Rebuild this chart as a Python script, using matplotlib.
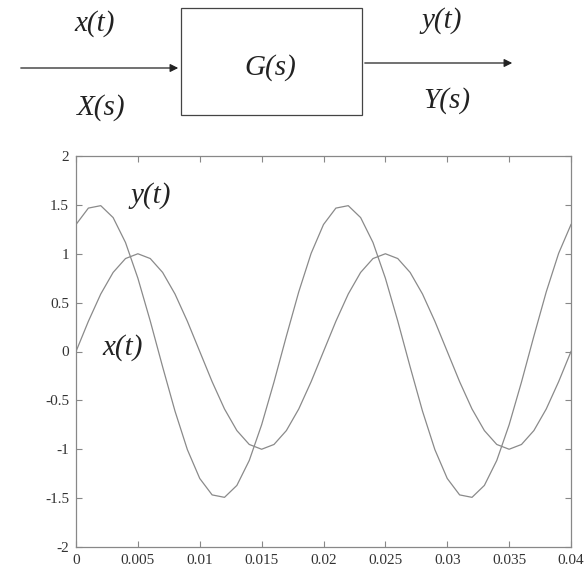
import numpy as np
import matplotlib.pyplot as plt
from matplotlib.patches import Rectangle

plt.rcParams['font.family'] = ['Liberation Serif', 'DejaVu Serif']

# sample times in ms (one sample per ms)
t_ms = [0, 1, 2, 3, 4, 5, 6, 7, 8, 9, 10, 11, 12, 13, 14, 15, 16, 17, 18, 19, 20,
        21, 22, 23, 24, 25, 26, 27, 28, 29, 30, 31, 32, 33, 34, 35, 36, 37, 38, 39, 40]
x_vals = [0, 0.309, 0.588, 0.809, 0.951, 1.0, 0.951, 0.809, 0.588, 0.309,
          0, -0.309, -0.588, -0.809, -0.951, -1.0, -0.951, -0.809, -0.588, -0.309,
          0, 0.309, 0.588, 0.809, 0.951, 1.0, 0.951, 0.809, 0.588, 0.309,
          0, -0.309, -0.588, -0.809, -0.951, -1.0, -0.951, -0.809, -0.588, -0.309, 0]
y_vals = [1.299, 1.467, 1.492, 1.370, 1.115, 0.75, 0.312, -0.157, -0.610, -1.004,
          -1.299, -1.467, -1.492, -1.370, -1.115, -0.75, -0.312, 0.157, 0.610, 1.004,
          1.299, 1.467, 1.492, 1.370, 1.115, 0.75, 0.312, -0.157, -0.610, -1.004,
          -1.299, -1.467, -1.492, -1.370, -1.115, -0.75, -0.312, 0.157, 0.610, 1.004, 1.299]
xticks = [0, 0.005, 0.01, 0.015, 0.02, 0.025, 0.03, 0.035, 0.04]
xtick_labels = ['0', '0.005', '0.01', '0.015', '0.02', '0.025', '0.03', '0.035', '0.04']
yticks = [-2, -1.5, -1, -0.5, 0, 0.5, 1, 1.5, 2]
ytick_labels = ['-2', '-1.5', '-1', '-0.5', '0', '0.5', '1', '1.5', '2']

t = np.array(t_ms) / 1000.0

W, H = 586, 566
fig = plt.figure(figsize=(W / 100, H / 100), dpi=100)

# block diagram, drawn in pixel coords
d = fig.add_axes([0, 0, 1, 1])
d.set_xlim(0, W)
d.set_ylim(H, 0)
d.axis('off')
d.add_patch(Rectangle((181, 8), 181, 107, fill=False, ec='#444444', lw=0.9))
d.annotate('', xy=(181, 68), xytext=(18, 68),
           arrowprops=dict(arrowstyle='-|>', color='#222222', lw=0.9, mutation_scale=12))
d.annotate('', xy=(515, 63), xytext=(362, 63),
           arrowprops=dict(arrowstyle='-|>', color='#222222', lw=0.9, mutation_scale=12))
big = dict(fontsize=21, fontstyle='italic', ha='center', va='center', color='#222222')
d.text(95, 24, 'x(t)', **big)
d.text(101, 108, 'X(s)', **big)
d.text(270, 68, 'G(s)', **big)
d.text(442, 21, 'y(t)', **big)
d.text(447, 101, 'Y(s)', **big)

# signal plot
ax = fig.add_axes([76 / W, 1 - 547 / H, (571 - 76) / W, (547 - 156) / H])
ax.plot(t, x_vals, color='#8a8a8a', lw=0.9)
ax.plot(t, y_vals, color='#8a8a8a', lw=0.9)
ax.set_xlim(0, 0.04)
ax.set_ylim(-2, 2)
ax.set_xticks(xticks, xtick_labels)
ax.set_yticks(yticks, ytick_labels)
ax.tick_params(direction='in', top=True, right=True, length=4, width=0.8,
               color='#888888', labelsize=11, labelcolor='#333333', pad=5)
for s in ax.spines.values():
    s.set_color('#888888')
    s.set_linewidth(0.9)
ax.text(0.006, 1.6, 'y(t)', **big)
ax.text(0.0038, 0.04, 'x(t)', **big)

fig.savefig('out.png', dpi=100)
